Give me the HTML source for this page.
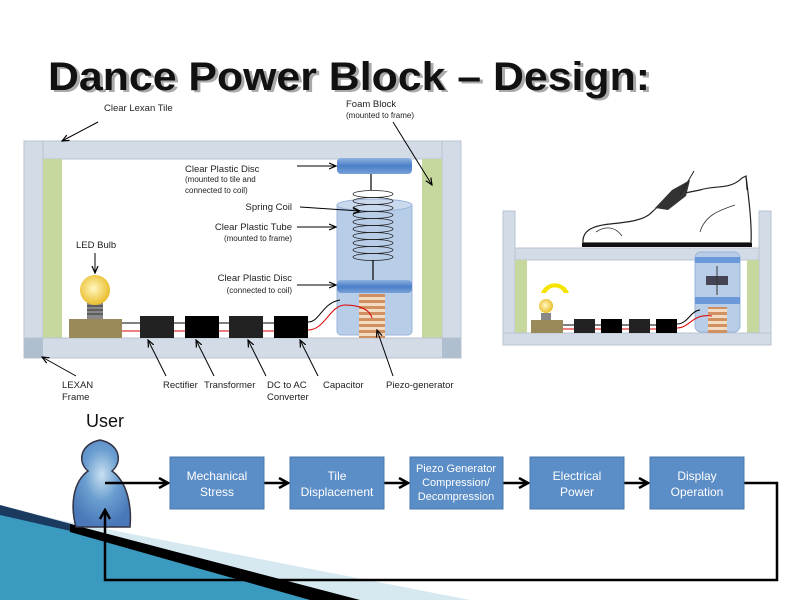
<!DOCTYPE html>
<html><head><meta charset="utf-8"><style>
body{margin:0;background:#fff;}
svg{display:block;font-family:"Liberation Sans",Arial,sans-serif;}
</style></head><body>
<svg width="800" height="600" viewBox="0 0 800 600" xmlns="http://www.w3.org/2000/svg">
<defs>
<marker id="a" markerWidth="8" markerHeight="8" refX="7" refY="4" orient="auto" markerUnits="userSpaceOnUse"><path d="M0,1 L7,4 L0,7" fill="none" stroke="#000" stroke-width="1.2"/></marker>
<marker id="b" markerWidth="12" markerHeight="12" refX="10" refY="6" orient="auto" markerUnits="userSpaceOnUse"><path d="M1,1 L10,6 L1,11" fill="none" stroke="#000" stroke-width="2.5"/></marker>
<radialGradient id="bulb" cx="0.45" cy="0.45" r="0.6"><stop offset="0" stop-color="#fff8c0"/><stop offset="1" stop-color="#e8b820"/></radialGradient>
<linearGradient id="disc" x1="0" y1="0" x2="0" y2="1"><stop offset="0" stop-color="#8fb2e0"/><stop offset="0.5" stop-color="#4a7fc8"/><stop offset="1" stop-color="#7aa0d8"/></linearGradient>
<pattern id="piezo" width="10" height="6" patternUnits="userSpaceOnUse"><rect width="10" height="6" fill="#f3dcc4"/><rect width="10" height="3" fill="#d09060"/></pattern>
<radialGradient id="usr" cx="0.5" cy="0.4" r="0.6"><stop offset="0" stop-color="#c8e0f0"/><stop offset="0.5" stop-color="#6a9ed0"/><stop offset="1" stop-color="#4a78b8"/></radialGradient>
</defs>

<!-- decorative wedge -->
<polygon points="0,505 60,520 470,600 0,600" fill="#d6e8f0"/>
<polygon points="0,510 75,530 330,600 0,600" fill="#3a9ac0"/>
<polygon points="0,505 75,525 75,532 0,515" fill="#1a3a60"/>
<polygon points="70,524 360,600 310,600 70,532" fill="#000"/>

<!-- title -->
<text x="51" y="92" font-size="40" font-weight="bold" fill="#aaa" textLength="602" lengthAdjust="spacingAndGlyphs">Dance Power Block – Design:</text>
<text x="48" y="90" font-size="40" font-weight="bold" fill="#111" textLength="602" lengthAdjust="spacingAndGlyphs">Dance Power Block – Design:</text>

<!-- LEFT diagram -->
<rect x="24" y="141" width="19" height="217" fill="#d3dbe6" stroke="#b8c4d2"/>
<rect x="442" y="141" width="19" height="217" fill="#d3dbe6" stroke="#b8c4d2"/>
<rect x="43" y="141" width="399" height="18" fill="#d3dbe6" stroke="#b8c4d2"/>
<rect x="43" y="159" width="19" height="179" fill="#c6d89e"/>
<rect x="422" y="159" width="20" height="179" fill="#c6d89e"/>
<rect x="24" y="338" width="437" height="20" fill="#d3dbe6" stroke="#b8c4d2"/>
<rect x="24" y="338" width="19" height="20" fill="#b0bfd0"/>
<rect x="442" y="338" width="19" height="20" fill="#b0bfd0"/>
<!-- tube -->
<rect x="337" y="203" width="75" height="132" rx="4" fill="#b8cde8" stroke="#9ab4d8"/>
<ellipse cx="374.5" cy="205" rx="37.5" ry="6" fill="#cad9ee" stroke="#9ab4d8"/>
<line x1="371" y1="174" x2="371" y2="190" stroke="#000" stroke-width="1.2"/>
<g fill="none" stroke="#222" stroke-width="0.8">
<ellipse cx="373" cy="194" rx="20" ry="3.5"/><ellipse cx="373" cy="201" rx="20" ry="3.5"/><ellipse cx="373" cy="208" rx="20" ry="3.5"/><ellipse cx="373" cy="215" rx="20" ry="3.5"/><ellipse cx="373" cy="222" rx="20" ry="3.5"/><ellipse cx="373" cy="229" rx="20" ry="3.5"/><ellipse cx="373" cy="236" rx="20" ry="3.5"/><ellipse cx="373" cy="243" rx="20" ry="3.5"/><ellipse cx="373" cy="250" rx="20" ry="3.5"/><ellipse cx="373" cy="257" rx="20" ry="3.5"/>
</g>
<line x1="373" y1="260" x2="373" y2="280" stroke="#000" stroke-width="1.2"/>
<rect x="337" y="158" width="75" height="16" rx="4" fill="url(#disc)"/>
<rect x="337" y="280" width="75" height="13" rx="4" fill="url(#disc)"/>
<rect x="359" y="294" width="26" height="44" fill="url(#piezo)"/>
<!-- wires -->
<path d="M308,322 C320,322 322,303 340,300" fill="none" stroke="#000" stroke-width="1"/>
<path d="M308,330 C325,330 330,305 345,305 C360,305 370,310 372,318" fill="none" stroke="#d00" stroke-width="1"/>
<line x1="122" y1="323" x2="308" y2="323" stroke="#000" stroke-width="1"/>
<line x1="122" y1="331" x2="308" y2="331" stroke="#d00" stroke-width="1"/>
<!-- bulb -->
<rect x="69" y="319" width="53" height="19" fill="#9a8a5a"/>
<rect x="87" y="302" width="16" height="17" fill="#888"/>
<g stroke="#333" stroke-width="1"><line x1="87" y1="306" x2="103" y2="306"/><line x1="87" y1="310" x2="103" y2="310"/><line x1="87" y1="314" x2="103" y2="314"/></g>
<circle cx="95" cy="290" r="15" fill="url(#bulb)"/>
<rect x="140" y="316" width="34" height="22" fill="#222"/>
<rect x="185" y="316" width="34" height="22" fill="#000"/>
<rect x="229" y="316" width="34" height="22" fill="#222"/>
<rect x="274" y="316" width="34" height="22" fill="#000"/>

<!-- labels & arrows left -->
<g font-size="9.5" fill="#222">
<text x="104" y="111">Clear Lexan Tile</text>
<text x="346" y="107">Foam Block</text>
<text x="346" y="118" font-size="8">(mounted to frame)</text>
<text x="185" y="172">Clear Plastic Disc</text>
<text x="185" y="182" font-size="8">(mounted to tile and</text>
<text x="185" y="193" font-size="8">connected to coil)</text>
<text x="292" y="210" text-anchor="end">Spring Coil</text>
<text x="292" y="230" text-anchor="end">Clear Plastic Tube</text>
<text x="292" y="241" text-anchor="end" font-size="8">(mounted to frame)</text>
<text x="76" y="248">LED Bulb</text>
<text x="292" y="281" text-anchor="end">Clear Plastic Disc</text>
<text x="292" y="293" text-anchor="end" font-size="8">(connected to coil)</text>
<text x="62" y="388">LEXAN</text>
<text x="62" y="400">Frame</text>
<text x="163" y="388">Rectifier</text>
<text x="204" y="388">Transformer</text>
<text x="267" y="388">DC to AC</text>
<text x="267" y="400">Converter</text>
<text x="323" y="388">Capacitor</text>
<text x="386" y="388">Piezo-generator</text>
</g>
<g stroke="#000" stroke-width="1" marker-end="url(#a)" fill="none">
<line x1="98" y1="122" x2="62" y2="141"/>
<line x1="393" y1="122" x2="432" y2="185"/>
<line x1="297" y1="166" x2="336" y2="166"/>
<line x1="300" y1="207" x2="360" y2="211"/>
<line x1="297" y1="227" x2="336" y2="227"/>
<line x1="95" y1="253" x2="95" y2="273"/>
<line x1="297" y1="285" x2="336" y2="285"/>
<line x1="76" y1="376" x2="42" y2="357"/>
<line x1="166" y1="376" x2="148" y2="340"/>
<line x1="214" y1="376" x2="196" y2="340"/>
<line x1="266" y1="376" x2="248" y2="340"/>
<line x1="318" y1="376" x2="300" y2="340"/>
<line x1="393" y1="376" x2="377" y2="330"/>
</g>

<!-- RIGHT diagram -->
<rect x="503" y="211" width="12" height="134" fill="#d3dbe6" stroke="#b8c4d2"/>
<rect x="759" y="211" width="12" height="134" fill="#d3dbe6" stroke="#b8c4d2"/>
<rect x="515" y="248" width="244" height="12" fill="#d3dbe6" stroke="#b8c4d2"/>
<rect x="515" y="260" width="12" height="73" fill="#c6d89e"/>
<rect x="747" y="260" width="12" height="73" fill="#c6d89e"/>
<rect x="503" y="333" width="268" height="12" fill="#d3dbe6" stroke="#b8c4d2"/>
<rect x="695" y="252" width="45" height="80" rx="6" fill="#b8cde8" stroke="#9ab4d8"/>
<rect x="695" y="257" width="45" height="6" fill="#6a98d8"/>
<rect x="695" y="297" width="45" height="7" fill="#6a98d8"/>
<rect x="706" y="276" width="22" height="9" fill="#445"/>
<line x1="717" y1="266" x2="717" y2="295" stroke="#333"/>
<rect x="708" y="307" width="19" height="26" fill="url(#piezo)"/>
<path d="M541,293 A15,15 0 0 1 569,293 L564,293 A10,10 0 0 0 546,293 Z" fill="#f5e400"/>
<circle cx="546" cy="306" r="7" fill="url(#bulb)"/>
<rect x="541" y="313" width="10" height="7" fill="#888"/>
<rect x="531" y="320" width="32" height="13" fill="#9a8a5a"/>
<line x1="563" y1="325" x2="677" y2="325" stroke="#000"/>
<line x1="563" y1="329" x2="677" y2="329" stroke="#d00"/>
<rect x="574" y="319" width="21" height="14" fill="#222"/>
<rect x="601" y="319" width="21" height="14" fill="#000"/>
<rect x="629" y="319" width="21" height="14" fill="#222"/>
<rect x="656" y="319" width="21" height="14" fill="#000"/>
<path d="M677,324 C688,324 690,311 700,310" fill="none" stroke="#000"/>
<path d="M677,328 C690,328 692,313 712,316" fill="none" stroke="#d00"/>
<!-- shoe -->
<path d="M583,243 C582,232 590,226 610,224 C630,222 645,220 652,212 C660,205 665,198 675,195 L700,190 C715,185 730,190 742,178 L746,176 C749,200 752,225 751,243 Z" fill="#fff" stroke="#222" stroke-width="1.2"/>
<path d="M582,243 L752,243 L752,247 L582,247 Z" fill="#111"/>
<path d="M655,208 L672,190 L690,180 L686,196 L668,210 Z" fill="#333"/>
<path d="M596,232 C605,226 615,226 622,236" fill="none" stroke="#333" stroke-width="0.8"/>
<path d="M700,232 C705,215 720,210 735,205" fill="none" stroke="#333" stroke-width="0.8"/>
<line x1="694" y1="171" x2="680" y2="195" stroke="#222"/>
<line x1="746" y1="176" x2="747" y2="190" stroke="#222"/>

<!-- FLOW -->
<text x="86" y="427" font-size="18" fill="#111">User</text>
<path d="M76,527 C70,505 73,482 88,471 C77,462 80,444 100,440 C120,444 123,462 112,471 C127,482 132,505 130,527 Z" fill="url(#usr)" stroke="#334" stroke-width="1.5"/>
<g stroke="#000" stroke-width="2.5" fill="none">
<line x1="105" y1="483" x2="168" y2="483" marker-end="url(#b)"/>
<line x1="264" y1="483" x2="288" y2="483" marker-end="url(#b)"/>
<line x1="384" y1="483" x2="408" y2="483" marker-end="url(#b)"/>
<line x1="503" y1="483" x2="528" y2="483" marker-end="url(#b)"/>
<line x1="624" y1="483" x2="648" y2="483" marker-end="url(#b)"/>
<path d="M744,483 L777,483 L777,580 L105,580 L105,510" marker-end="url(#b)"/>
</g>
<g fill="#5b8dc6" stroke="#4a78ae">
<rect x="170" y="457" width="94" height="52"/>
<rect x="290" y="457" width="94" height="52"/>
<rect x="410" y="457" width="93" height="52"/>
<rect x="530" y="457" width="94" height="52"/>
<rect x="650" y="457" width="94" height="52"/>
</g>
<g fill="#fff" font-size="12" text-anchor="middle">
<text x="217" y="480">Mechanical</text><text x="217" y="496">Stress</text>
<text x="337" y="480">Tile</text><text x="337" y="496">Displacement</text>
<text x="456" y="472" font-size="11">Piezo Generator</text><text x="456" y="486" font-size="11">Compression/</text><text x="456" y="500" font-size="11">Decompression</text>
<text x="577" y="480">Electrical</text><text x="577" y="496">Power</text>
<text x="697" y="480">Display</text><text x="697" y="496">Operation</text>
</g>
</svg>
</body></html>
